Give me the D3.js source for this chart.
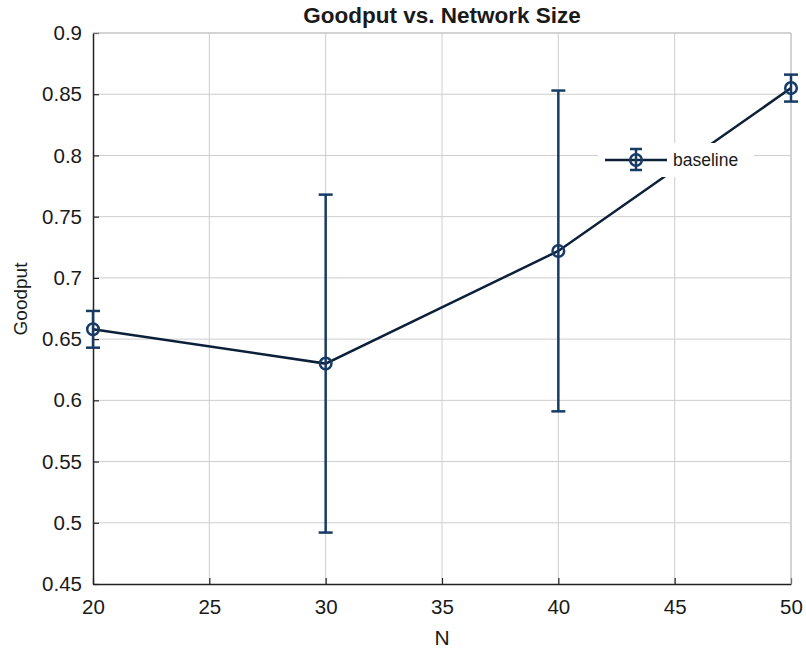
<!DOCTYPE html>
<html>
<head>
<meta charset="utf-8">
<script src="https://cdn.jsdelivr.net/npm/d3@7"></script>
<style>
    body { margin: 0; background: #fff; }
    text { font-family: "Liberation Sans", Arial, sans-serif; fill: #1a1a1a; }
</style>
</head>
<body>
<svg id="chart" width="806" height="652"></svg>
<script>
var networkSize = [20, 30, 40, 50];
var goodput = [0.658, 0.630, 0.722, 0.855];
var goodputErr = [0.015, 0.138, 0.131, 0.011];
var xTicks = [20, 25, 30, 35, 40, 45, 50];
var yTicks = [0.45, 0.5, 0.55, 0.6, 0.65, 0.7, 0.75, 0.8, 0.85, 0.9];
var seriesName = 'baseline';

var svg = d3.select('#chart');
var mLeft = 93, mRight = 791, mTop = 33, mBottom = 584;

var x = d3.scaleLinear().domain([20, 50]).range([mLeft, mRight]);
var y = d3.scaleLinear().domain([0.45, 0.9]).range([mBottom, mTop]);

var lineColor = '#0c203a';
var barColor = '#163b66';

// grid
var grid = svg.append('g');
grid.selectAll('.gx')
    .data(xTicks.slice(1))
    .enter()
    .append('line')
    .attr('x1', d => x(d)).attr('x2', d => x(d))
    .attr('y1', mTop).attr('y2', mBottom)
    .attr('stroke', '#cdcdcd');
grid.selectAll('.gy')
    .data(yTicks.slice(1))
    .enter()
    .append('line')
    .attr('x1', mLeft).attr('x2', mRight)
    .attr('y1', d => y(d)).attr('y2', d => y(d))
    .attr('stroke', '#cdcdcd');

// axes
var xAxis = d3.axisBottom(x).tickValues(xTicks).tickSizeInner(-6).tickSizeOuter(0).tickPadding(15);
var yAxis = d3.axisLeft(y).tickValues(yTicks).tickSizeInner(-6).tickSizeOuter(0).tickPadding(11)
    .tickFormat(d => String(+d.toFixed(2)));

var gx = svg.append('g').attr('transform', 'translate(0,' + mBottom + ')').call(xAxis);
var gy = svg.append('g').attr('transform', 'translate(' + mLeft + ',0)').call(yAxis);

[gx, gy].forEach(function(g) {
    g.select('.domain').attr('stroke', '#222').attr('stroke-width', 1.5);
    g.selectAll('.tick line').attr('stroke', '#222').attr('stroke-width', 1.2);
    g.selectAll('.tick text')
        .style('font-family', '"Liberation Sans", Arial, sans-serif')
        .style('font-size', '20.5px')
        .attr('fill', '#111');
});

// top / right border
svg.append('line').attr('x1', mLeft).attr('x2', mRight).attr('y1', mTop).attr('y2', mTop).attr('stroke', '#c0c0c0');
svg.append('line').attr('x1', mRight).attr('x2', mRight).attr('y1', mTop).attr('y2', mBottom).attr('stroke', '#c0c0c0');

// data line
var pts = networkSize.map((n, i) => [n, goodput[i], goodputErr[i]]);
svg.append('path')
    .datum(pts)
    .attr('fill', 'none')
    .attr('stroke', lineColor)
    .attr('stroke-width', 2.5)
    .attr('d', d3.line().x(d => x(d[0])).y(d => y(d[1])));

// error bars
var eb = svg.selectAll('.eb')
    .data(pts)
    .enter()
    .append('g')
    .attr('stroke', barColor)
    .attr('stroke-width', 2.5)
    .attr('fill', 'none');
eb.append('line')
    .attr('x1', d => x(d[0])).attr('x2', d => x(d[0]))
    .attr('y1', d => y(d[1] - d[2])).attr('y2', d => y(d[1] + d[2]));
eb.append('line')
    .attr('x1', d => x(d[0]) - 7).attr('x2', d => x(d[0]) + 7)
    .attr('y1', d => y(d[1] + d[2])).attr('y2', d => y(d[1] + d[2]));
eb.append('line')
    .attr('x1', d => x(d[0]) - 7).attr('x2', d => x(d[0]) + 7)
    .attr('y1', d => y(d[1] - d[2])).attr('y2', d => y(d[1] - d[2]));
eb.append('circle')
    .attr('cx', d => x(d[0])).attr('cy', d => y(d[1]))
    .attr('r', 5.8);

// legend
var lg = svg.append('g').attr('transform', 'translate(598,143)');
lg.append('rect').attr('width', 156).attr('height', 34).attr('fill', '#fff');
lg.append('line').attr('x1', 7).attr('x2', 69).attr('y1', 17).attr('y2', 17)
    .attr('stroke', lineColor).attr('stroke-width', 2.5);
lg.append('line').attr('x1', 38).attr('x2', 38).attr('y1', 6).attr('y2', 27)
    .attr('stroke', barColor).attr('stroke-width', 2.5);
lg.append('line').attr('x1', 32).attr('x2', 44).attr('y1', 6).attr('y2', 6)
    .attr('stroke', barColor).attr('stroke-width', 2.5);
lg.append('line').attr('x1', 32).attr('x2', 44).attr('y1', 27).attr('y2', 27)
    .attr('stroke', barColor).attr('stroke-width', 2.5);
lg.append('circle').attr('cx', 38).attr('cy', 17).attr('r', 5.8)
    .attr('fill', 'none').attr('stroke', barColor).attr('stroke-width', 2.5);
lg.append('text').attr('x', 75).attr('y', 23).style('font-size', '17.5px').text(seriesName);

// labels
svg.append('text')
    .attr('x', (mLeft + mRight) / 2).attr('y', 23)
    .attr('text-anchor', 'middle')
    .style('font-size', '22.5px')
    .style('font-weight', 'bold')
    .attr('fill', '#000')
    .text('Goodput vs. Network Size');

svg.append('text')
    .attr('x', (mLeft + mRight) / 2).attr('y', 645)
    .attr('text-anchor', 'middle')
    .style('font-size', '21px')
    .text('N');

svg.append('text')
    .attr('transform', 'translate(27,299) rotate(-90)')
    .attr('text-anchor', 'middle')
    .style('font-size', '19px')
    .text('Goodput');
</script>
</body>
</html>
